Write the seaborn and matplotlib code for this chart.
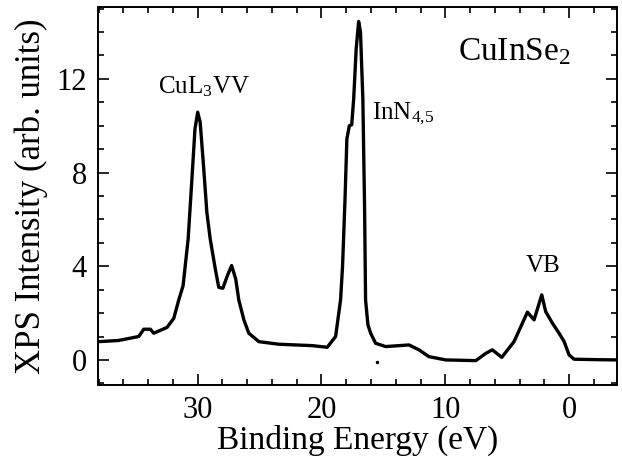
import numpy as np
import pandas as pd
import matplotlib
matplotlib.use("Agg")
import matplotlib.pyplot as plt
import seaborn as sns
from matplotlib.ticker import MultipleLocator

# Binding energy (eV) and XPS intensity (arb. units)
energy = [38.0, 36.4, 34.76, 34.36, 33.82, 33.55, 32.47, 31.93, 31.53, 31.18, 30.77,
          30.5, 30.22, 30.0, 29.8, 29.53, 29.26, 28.99, 28.58, 28.3, 27.97, 27.6,
          27.26, 26.93, 26.68, 26.27, 25.87, 25.06, 23.44, 20.75, 19.54, 18.86,
          18.46, 18.3, 18.1, 17.95, 17.75, 17.56, 17.4, 17.2, 17.0, 16.85, 16.66,
          16.52, 16.44, 16.25, 16.03, 15.63, 14.82, 12.93, 12.13, 11.32, 9.97, 7.54,
          6.73, 6.2, 5.44, 4.45, 3.9, 3.37, 2.83, 2.21, 1.89, 1.35, 0.81, 0.4, 0.0,
          -0.4, -2.4, -3.85]
intensity = [0.78, 0.83, 1.0, 1.31, 1.31, 1.14, 1.39, 1.78, 2.56, 3.17, 5.17,
             7.44, 9.86, 10.58, 10.15, 8.3, 6.3, 5.17, 3.89, 3.1, 3.06, 3.6,
             4.03, 3.46, 2.56, 1.71, 1.14, 0.78, 0.67, 0.61, 0.54, 1.0,
             2.56, 4.0, 6.87, 9.44, 10.0, 10.04, 11.15, 13.28, 14.45, 13.99, 11.15,
             6.5, 2.56, 1.5, 1.14, 0.71, 0.57, 0.64, 0.43, 0.14, 0.0, -0.03,
             0.28, 0.43, 0.11, 0.78, 1.42, 2.04, 1.71, 2.78, 2.06, 1.57, 1.14, 0.78, 0.21,
             0.03, 0.01, 0.0]

# stray dot in the original figure
dot_energy = [15.5]
dot_intensity = [-0.07]

x_ticks = [30, 20, 10, 0]
y_ticks = [0, 4, 8, 12]

sns.set_theme(style="ticks")
plt.rcParams["font.family"] = ["Liberation Serif", "DejaVu Serif"]
plt.rcParams["mathtext.fontset"] = "custom"
plt.rcParams["mathtext.rm"] = "Liberation Serif"
plt.rcParams["mathtext.default"] = "regular"

df = pd.DataFrame({"energy": energy, "intensity": intensity})

fig = plt.figure(figsize=(6.22, 4.68), dpi=100)
ax = fig.add_axes([0.1576, 0.1774, 0.834, 0.8066])

sns.lineplot(data=df, x="energy", y="intensity", sort=False, estimator=None,
             color="black", linewidth=2.4, ax=ax)
ax.plot(dot_energy, dot_intensity, "o", color="black", markersize=1.5)

ax.set_xlim(38.05, -3.85)
ax.set_ylim(-1.07, 15.05)
ax.set_xticks(x_ticks)
ax.set_yticks(y_ticks)
ax.xaxis.set_minor_locator(MultipleLocator(2))
ax.yaxis.set_minor_locator(MultipleLocator(1))
ax.tick_params(which="both", direction="in", top=True, right=True, width=1.2,
               color="black", labelsize=22, labelcolor="black")
ax.tick_params(which="major", length=8, pad=8)
ax.tick_params(which="minor", length=4)
for s in ax.spines.values():
    s.set_linewidth(1.4)
    s.set_color("black")

ax.set_xlabel("Binding Energy (eV)", fontsize=24, labelpad=0, color="black")
ax.set_ylabel("XPS Intensity (arb. units)", fontsize=25, labelpad=6, color="black")

ax.text(8.95, 12.8, r"CuInSe$_{2}$", fontsize=24, color="black")
ax.text(33.2, 11.4, r"CuL$_{3}$VV", fontsize=18, color="black")
ax.text(15.95, 10.3, r"InN$_{4{,}5}$", fontsize=18, color="black")
ax.text(3.54, 3.74, "VB", fontsize=18, color="black")

fig.savefig("out.png", dpi=100)
